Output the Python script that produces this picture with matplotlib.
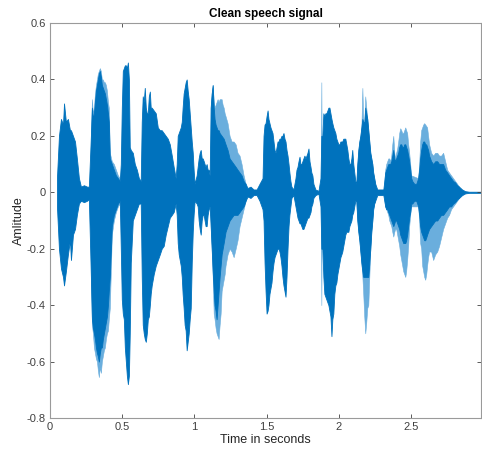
import matplotlib
matplotlib.use("Agg")
import matplotlib.pyplot as plt
import numpy as np

plt.rcParams["font.family"] = ["Liberation Sans", "DejaVu Sans"]

# ---- envelope of the waveform (seconds, amplitude) ----
# dark (main) layer
t_dark = [
    0.048, 0.062, 0.076, 0.090, 0.097, 0.110, 0.124, 0.138, 0.145, 0.159, 0.173, 0.186, 0.200,
    0.214, 0.235, 0.256, 0.269,
    0.283, 0.290, 0.297, 0.304, 0.311, 0.318, 0.325, 0.331, 0.338, 0.345, 0.352, 0.359, 0.366,
    0.373, 0.380, 0.387, 0.394, 0.401, 0.407, 0.414, 0.428, 0.442, 0.456, 0.470, 0.483,
    0.490, 0.497, 0.504, 0.511, 0.518, 0.525, 0.532, 0.539, 0.546, 0.552, 0.559, 0.573, 0.587,
    0.601, 0.615, 0.628,
    0.635, 0.642, 0.649, 0.656, 0.663, 0.670, 0.677, 0.684, 0.691, 0.697, 0.704, 0.718, 0.732,
    0.746, 0.760, 0.773, 0.787, 0.801, 0.815, 0.829, 0.843, 0.856, 0.870,
    0.877, 0.884, 0.891, 0.898, 0.905, 0.912, 0.918, 0.925, 0.932, 0.939, 0.946, 0.953, 0.960,
    0.967, 0.974, 0.981, 0.988, 0.994, 1.001,
    1.015, 1.022, 1.029, 1.036, 1.043, 1.050, 1.057, 1.064, 1.070, 1.077, 1.084, 1.091, 1.098, 1.105,
    1.112, 1.119, 1.126, 1.133, 1.139, 1.146, 1.153, 1.160, 1.167, 1.174, 1.188, 1.202, 1.215,
    1.229, 1.243, 1.257, 1.271, 1.285, 1.298, 1.312, 1.326, 1.340, 1.354,
    1.367, 1.388, 1.409, 1.430, 1.450,
    1.471, 1.478, 1.485, 1.492, 1.499, 1.506, 1.512, 1.519, 1.526, 1.533, 1.540, 1.547, 1.554,
    1.561, 1.568, 1.575, 1.582, 1.588, 1.595, 1.602, 1.609, 1.616, 1.623, 1.630, 1.637, 1.644,
    1.651, 1.657, 1.664, 1.671, 1.685,
    1.699, 1.706, 1.713, 1.720, 1.727, 1.733, 1.740, 1.747, 1.754, 1.761, 1.768, 1.775, 1.782,
    1.789, 1.796, 1.803, 1.809, 1.816, 1.823, 1.837, 1.858,
    1.872, 1.878, 1.885, 1.892, 1.899, 1.906, 1.913, 1.920, 1.927, 1.934, 1.941, 1.948, 1.954,
    1.961, 1.968, 1.975, 1.982, 1.989, 1.996, 2.003, 2.010, 2.017, 2.023, 2.030, 2.037, 2.044,
    2.051, 2.058, 2.065, 2.072, 2.079, 2.086, 2.092, 2.099, 2.106, 2.113,
    2.120, 2.127, 2.134, 2.141, 2.148, 2.155, 2.162, 2.168, 2.175, 2.182, 2.189, 2.196, 2.203,
    2.210, 2.217, 2.224, 2.231, 2.237, 2.244, 2.251, 2.265, 2.286, 2.307,
    2.314, 2.320, 2.327, 2.334, 2.341, 2.348, 2.355, 2.362, 2.369, 2.376, 2.383, 2.389, 2.396,
    2.403, 2.410, 2.417, 2.424, 2.431, 2.438, 2.445, 2.452, 2.459, 2.465, 2.472, 2.479, 2.486,
    2.493, 2.500, 2.507, 2.521, 2.535, 2.548,
    2.555, 2.562, 2.569, 2.576, 2.583, 2.590, 2.597, 2.604, 2.610, 2.617, 2.624, 2.638, 2.652,
    2.666, 2.680, 2.693, 2.707, 2.721, 2.735, 2.749, 2.762, 2.776, 2.790, 2.804, 2.818, 2.831,
    2.852, 2.873, 2.901, 2.983,
]
upper_dark = [
    0.05, 0.20, 0.26, 0.24, 0.315, 0.25, 0.26, 0.22, 0.22, 0.20, 0.18, 0.12, 0.05,
    0.02, 0.025, 0.02, 0.02,
    0.20, 0.30, 0.26, 0.28, 0.32, 0.36, 0.38, 0.40, 0.42, 0.43, 0.41, 0.38, 0.37,
    0.36, 0.35, 0.33, 0.31, 0.28, 0.25, 0.12, 0.10, 0.08, 0.06, 0.05, 0.04,
    0.10, 0.30, 0.43, 0.44, 0.45, 0.45, 0.44, 0.46, 0.40, 0.16, 0.15, 0.14, 0.10,
    0.08, 0.05, 0.04,
    0.25, 0.34, 0.32, 0.37, 0.30, 0.28, 0.28, 0.34, 0.357, 0.30, 0.30, 0.29, 0.28,
    0.23, 0.22, 0.22, 0.21, 0.20, 0.19, 0.17, 0.13, 0.09, 0.05,
    0.10, 0.20, 0.21, 0.22, 0.23, 0.25, 0.30, 0.35, 0.37, 0.39, 0.40, 0.36, 0.33,
    0.28, 0.23, 0.18, 0.14, 0.08, 0.03,
    0.06, 0.09, 0.12, 0.14, 0.15, 0.12, 0.12, 0.11, 0.10, 0.09, 0.10, 0.08, 0.08, 0.06,
    0.30, 0.35, 0.38, 0.30, 0.26, 0.24, 0.23, 0.22, 0.22, 0.21, 0.20, 0.19, 0.17,
    0.15, 0.12, 0.11, 0.10, 0.09, 0.08, 0.07, 0.06, 0.04, 0.03,
    0.015, 0.02, 0.01, 0.01, 0.03,
    0.05, 0.20, 0.24, 0.245, 0.27, 0.29, 0.26, 0.245, 0.23, 0.22, 0.21, 0.18, 0.15,
    0.14, 0.16, 0.18, 0.18, 0.19, 0.19, 0.20, 0.20, 0.21, 0.19, 0.18, 0.15, 0.13,
    0.10, 0.07, 0.04, 0.02, 0.01,
    0.05, 0.08, 0.09, 0.11, 0.126, 0.10, 0.10, 0.11, 0.12, 0.13, 0.12, 0.13, 0.14,
    0.155, 0.11, 0.09, 0.07, 0.06, 0.03, 0.01, 0.005,
    0.05, 0.20, 0.20, 0.28, 0.27, 0.28, 0.28, 0.29, 0.30, 0.30, 0.28, 0.26, 0.245,
    0.23, 0.22, 0.21, 0.19, 0.18, 0.17, 0.17, 0.18, 0.18, 0.18, 0.19, 0.19, 0.19,
    0.17, 0.15, 0.12, 0.10, 0.10, 0.12, 0.15, 0.10, 0.07, 0.04,
    0.03, 0.10, 0.15, 0.18, 0.20, 0.23, 0.26, 0.25, 0.245, 0.30, 0.28, 0.26, 0.22,
    0.18, 0.14, 0.12, 0.10, 0.07, 0.05, 0.03, 0.01, 0.01, 0.01,
    0.04, 0.07, 0.08, 0.09, 0.10, 0.10, 0.10, 0.11, 0.13, 0.15, 0.12, 0.11, 0.12,
    0.13, 0.14, 0.16, 0.17, 0.17, 0.16, 0.16, 0.17, 0.17, 0.16, 0.15, 0.13, 0.11,
    0.08, 0.05, 0.04, 0.03, 0.03, 0.05,
    0.08, 0.12, 0.15, 0.17, 0.18, 0.18, 0.17, 0.17, 0.16, 0.15, 0.13, 0.11, 0.10,
    0.11, 0.11, 0.10, 0.10, 0.10, 0.08, 0.07, 0.06, 0.05, 0.04, 0.035, 0.025, 0.02,
    0.01, 0.004, 0.002, 0.002,
]
lower_dark = [
    -0.05, -0.20, -0.27, -0.30, -0.33, -0.28, -0.22, -0.17, -0.24, -0.15, -0.13, -0.08, -0.04,
    -0.03, -0.035, -0.03, -0.025,
    -0.30, -0.45, -0.48, -0.50, -0.52, -0.55, -0.57, -0.58, -0.60, -0.57, -0.55, -0.55, -0.52,
    -0.50, -0.48, -0.46, -0.44, -0.40, -0.35, -0.30, -0.12, -0.08, -0.06, -0.04, -0.03,
    -0.20, -0.38, -0.43, -0.45, -0.55, -0.60, -0.65, -0.68, -0.65, -0.50, -0.25, -0.10, -0.08,
    -0.06, -0.04, -0.04,
    -0.30, -0.47, -0.50, -0.52, -0.53, -0.50, -0.45, -0.44, -0.40, -0.36, -0.33, -0.29, -0.26,
    -0.24, -0.22, -0.20, -0.19, -0.15, -0.12, -0.09, -0.08, -0.07, -0.04,
    -0.08, -0.18, -0.22, -0.24, -0.26, -0.30, -0.36, -0.41, -0.47, -0.49, -0.56, -0.53, -0.50,
    -0.45, -0.41, -0.25, -0.14, -0.08, -0.03,
    -0.04, -0.05, -0.10, -0.13, -0.15, -0.10, -0.08, -0.08, -0.10, -0.12, -0.12, -0.08, -0.06, -0.05,
    -0.12, -0.20, -0.28, -0.35, -0.40, -0.42, -0.45, -0.40, -0.35, -0.30, -0.22, -0.18, -0.14,
    -0.12, -0.10, -0.09, -0.08, -0.08, -0.08, -0.07, -0.06, -0.05, -0.03,
    -0.015, -0.02, -0.01, -0.01, -0.03,
    -0.06, -0.10, -0.25, -0.35, -0.43, -0.42, -0.40, -0.36, -0.34, -0.32, -0.28, -0.25, -0.23,
    -0.22, -0.21, -0.20, -0.20, -0.21, -0.23, -0.26, -0.30, -0.33, -0.35, -0.37, -0.30, -0.20,
    -0.12, -0.08, -0.05, -0.02, -0.01,
    -0.05, -0.07, -0.09, -0.10, -0.11, -0.11, -0.12, -0.13, -0.13, -0.12, -0.11, -0.10, -0.09,
    -0.09, -0.08, -0.07, -0.05, -0.04, -0.02, -0.01, -0.005,
    -0.05, -0.20, -0.20, -0.30, -0.36, -0.37, -0.38, -0.39, -0.40, -0.42, -0.44, -0.51, -0.45,
    -0.43, -0.36, -0.33, -0.32, -0.29, -0.27, -0.25, -0.23, -0.22, -0.21, -0.19, -0.17, -0.15,
    -0.14, -0.14, -0.14, -0.12, -0.11, -0.10, -0.08, -0.07, -0.05, -0.03,
    -0.03, -0.10, -0.14, -0.17, -0.21, -0.25, -0.28, -0.30, -0.30, -0.30, -0.30, -0.30, -0.30,
    -0.25, -0.20, -0.14, -0.10, -0.06, -0.04, -0.03, -0.01, -0.01, -0.01,
    -0.03, -0.05, -0.06, -0.06, -0.07, -0.08, -0.09, -0.10, -0.11, -0.12, -0.11, -0.10, -0.10,
    -0.11, -0.12, -0.13, -0.15, -0.16, -0.17, -0.18, -0.18, -0.18, -0.17, -0.15, -0.12, -0.09,
    -0.07, -0.04, -0.04, -0.03, -0.03, -0.05,
    -0.08, -0.12, -0.14, -0.15, -0.16, -0.17, -0.17, -0.16, -0.15, -0.14, -0.13, -0.12, -0.11,
    -0.10, -0.10, -0.09, -0.08, -0.08, -0.07, -0.06, -0.05, -0.05, -0.04, -0.035, -0.025, -0.02,
    -0.01, -0.004, -0.002, -0.002,
]

# lighter outer strands (only where they stick out of the dark body)
t_light = [
    0.283, 0.290, 0.297, 0.304, 0.311, 0.318, 0.325, 0.331, 0.338, 0.345, 0.352, 0.359, 0.366,
    0.373, 0.380, 0.387, 0.394, 0.401, 0.407, 0.414, 0.428, 0.442, 0.456, 0.470, 0.483,
    1.112, 1.119, 1.126, 1.133, 1.139, 1.146, 1.153, 1.160, 1.167, 1.174, 1.181, 1.188, 1.195,
    1.202, 1.209, 1.215, 1.229, 1.243, 1.257, 1.271, 1.285, 1.298, 1.312, 1.326, 1.340, 1.354,
    1.876, 1.878, 1.880,
    2.120, 2.127, 2.134, 2.141, 2.148, 2.155, 2.162, 2.168, 2.175, 2.182, 2.189, 2.196, 2.203,
    2.210, 2.217, 2.224, 2.231, 2.237, 2.244, 2.251,
    2.314, 2.320, 2.327, 2.334, 2.341, 2.348, 2.355, 2.362, 2.369, 2.376, 2.383, 2.389, 2.396,
    2.403, 2.410, 2.417, 2.424, 2.431, 2.438, 2.445, 2.452, 2.459, 2.465, 2.472, 2.479, 2.486,
    2.493, 2.500,
    2.548, 2.555, 2.562, 2.569, 2.576, 2.583, 2.590, 2.597, 2.604, 2.610, 2.617, 2.624, 2.638,
    2.652, 2.666, 2.680, 2.693, 2.707, 2.721, 2.735, 2.749, 2.762, 2.776, 2.790, 2.804, 2.818,
    2.831,
]
upper_light = [
    0.20, 0.33, 0.28, 0.30, 0.35, 0.38, 0.40, 0.42, 0.43, 0.44, 0.43, 0.40, 0.40,
    0.39, 0.39, 0.38, 0.36, 0.32, 0.30, 0.14, 0.11, 0.10, 0.08, 0.06, 0.05,
    0.30, 0.35, 0.38, 0.32, 0.30, 0.31, 0.32, 0.33, 0.32, 0.33, 0.33, 0.33, 0.31,
    0.30, 0.28, 0.27, 0.245, 0.20, 0.18, 0.18, 0.17, 0.14, 0.13, 0.10, 0.06, 0.03,
    0.20, 0.39, 0.20,
    0.03, 0.10, 0.15, 0.18, 0.20, 0.23, 0.37, 0.25, 0.245, 0.34, 0.30, 0.26, 0.22,
    0.18, 0.14, 0.12, 0.10, 0.07, 0.05, 0.03,
    0.04, 0.08, 0.10, 0.11, 0.12, 0.12, 0.11, 0.13, 0.17, 0.20, 0.14, 0.12, 0.14,
    0.155, 0.18, 0.21, 0.227, 0.22, 0.21, 0.21, 0.22, 0.23, 0.22, 0.21, 0.17, 0.14,
    0.10, 0.06,
    0.05, 0.10, 0.18, 0.22, 0.23, 0.24, 0.245, 0.24, 0.235, 0.23, 0.20, 0.17, 0.14,
    0.13, 0.14, 0.14, 0.13, 0.13, 0.14, 0.11, 0.08, 0.07, 0.06, 0.05, 0.04, 0.03,
    0.02,
]
lower_light = [
    -0.30, -0.47, -0.50, -0.55, -0.57, -0.59, -0.60, -0.63, -0.655, -0.62, -0.64, -0.60, -0.58,
    -0.56, -0.55, -0.52, -0.50, -0.49, -0.45, -0.41, -0.15, -0.10, -0.07, -0.05, -0.04,
    -0.12, -0.20, -0.30, -0.43, -0.45, -0.48, -0.50, -0.51, -0.52, -0.47, -0.43, -0.35, -0.33,
    -0.31, -0.29, -0.26, -0.22, -0.20, -0.21, -0.23, -0.20, -0.17, -0.12, -0.09, -0.06, -0.03,
    -0.20, -0.40, -0.20,
    -0.03, -0.10, -0.14, -0.17, -0.21, -0.25, -0.30, -0.36, -0.44, -0.50, -0.46, -0.41, -0.40,
    -0.30, -0.20, -0.14, -0.10, -0.06, -0.04, -0.03,
    -0.03, -0.05, -0.06, -0.07, -0.08, -0.10, -0.11, -0.12, -0.14, -0.157, -0.14, -0.13, -0.13,
    -0.15, -0.17, -0.19, -0.22, -0.24, -0.26, -0.28, -0.29, -0.30, -0.28, -0.24, -0.19, -0.12,
    -0.08, -0.05,
    -0.05, -0.10, -0.18, -0.20, -0.26, -0.28, -0.30, -0.31, -0.29, -0.26, -0.23, -0.21, -0.21,
    -0.24, -0.22, -0.21, -0.19, -0.16, -0.13, -0.11, -0.09, -0.08, -0.06, -0.05, -0.04, -0.03,
    -0.02,
]

x_ticks = [0, 0.5, 1, 1.5, 2, 2.5]
x_labels = ["0", "0.5", "1", "1.5", "2", "2.5"]
y_ticks = [-0.8, -0.6, -0.4, -0.2, 0, 0.2, 0.4, 0.6]
y_labels = ["-0.8", "-0.6", "-0.4", "-0.2", "0", "0.2", "0.4", "0.6"]

dark = "#0072BD"
light = "#6aaedd"

fig = plt.figure(figsize=(4.82, 4.53), dpi=100)
ax = fig.add_axes([50 / 482, 1 - 418 / 453, 431 / 482, 395 / 453])

# light strands first, split into separate pieces so gaps stay empty
tl = np.array(t_light)
lo_l = np.array(lower_light)
hi_l = np.array(upper_light)
breaks = np.where(np.diff(tl) > 0.05)[0] + 1
for idx in np.split(np.arange(len(tl)), breaks):
    ax.fill_between(tl[idx], lo_l[idx], hi_l[idx], color=light, linewidth=0.4, edgecolor=light)
ax.fill_between(t_dark, lower_dark, upper_dark, color=dark, linewidth=0.6, edgecolor=dark)

ax.set_xlim(0, 2.983)
ax.set_ylim(-0.8, 0.6)
ax.set_xticks(x_ticks)
ax.set_xticklabels(x_labels)
ax.set_yticks(y_ticks)
ax.set_yticklabels(y_labels)
ax.tick_params(direction="in", length=3, width=0.6, colors="#404040", labelsize=8,
               top=True, right=True, pad=3)
for s in ax.spines.values():
    s.set_color("#9a9a9a")
    s.set_linewidth(0.8)

ax.set_title("Clean speech signal", fontsize=8.5, fontweight="bold", pad=4)
ax.set_xlabel("Time in seconds", fontsize=9, color="#262626", labelpad=1)
ax.set_ylabel("Amlitude", fontsize=9, color="#262626", labelpad=1)

fig.savefig("out.png", dpi=100)
